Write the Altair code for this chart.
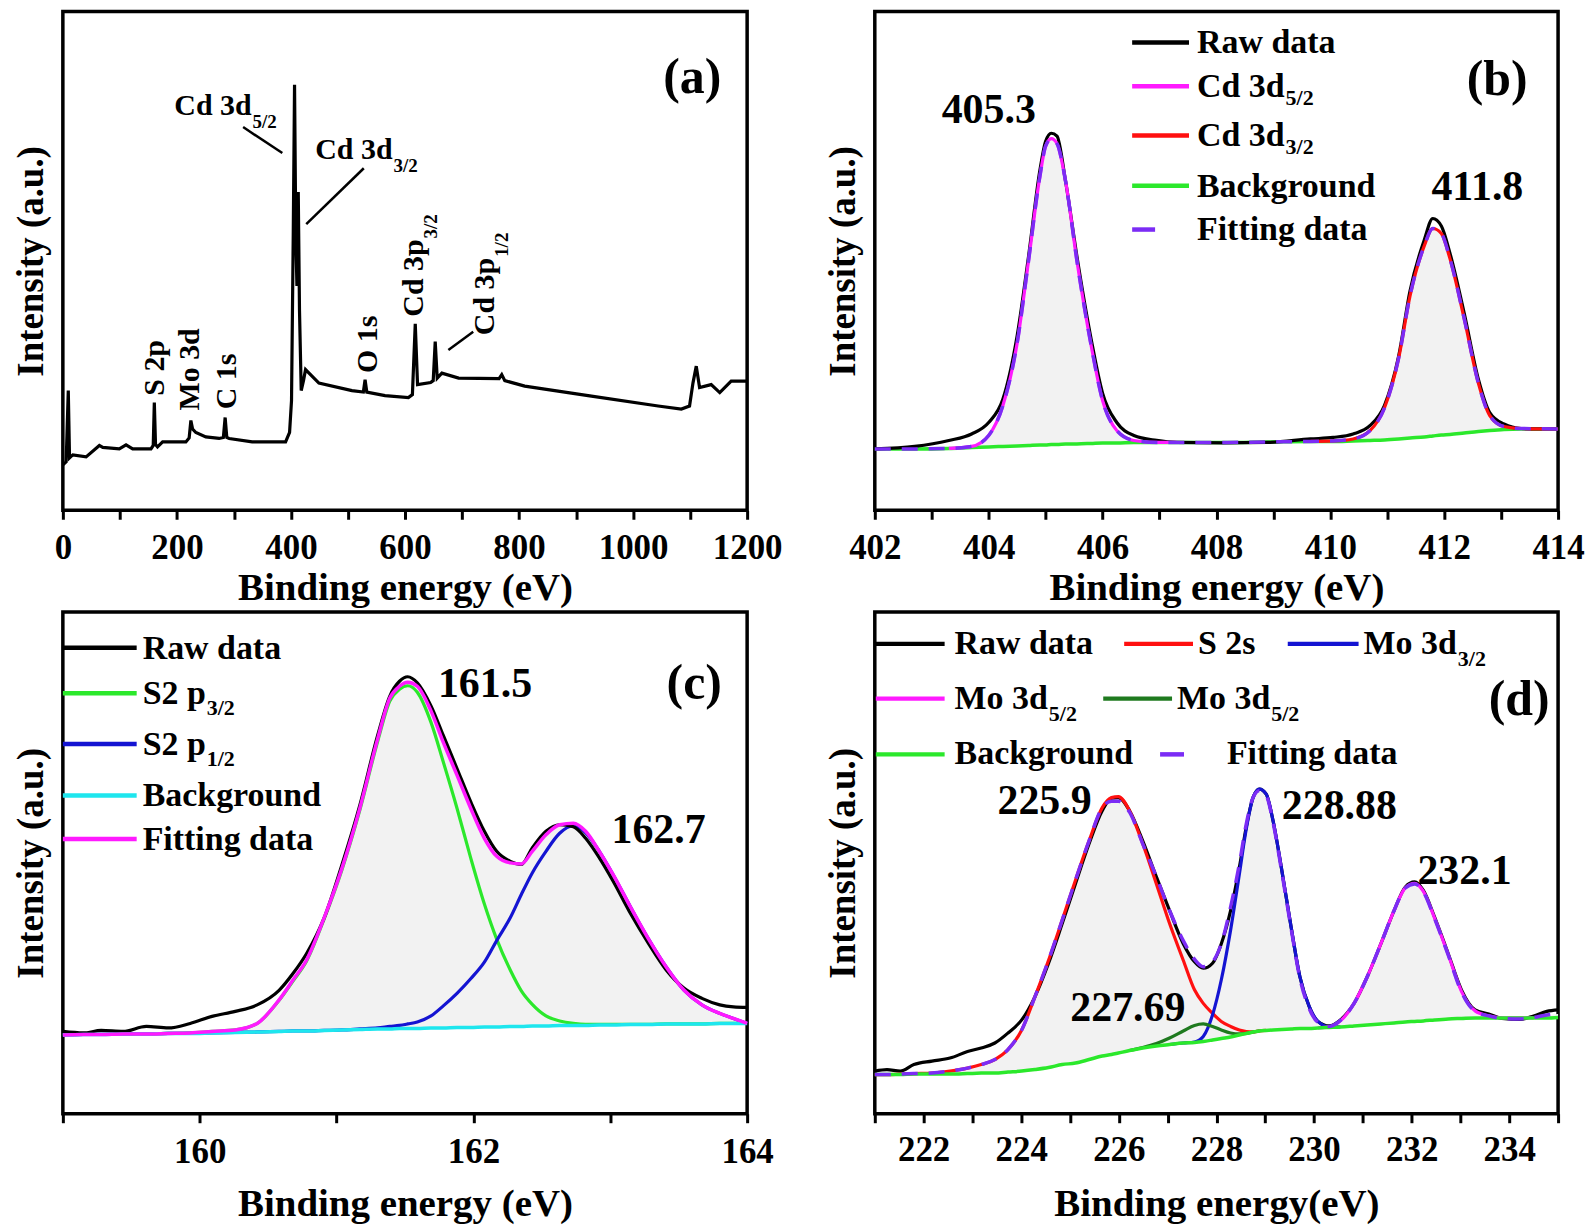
import altair as alt
import pandas as pd

FONT = "Liberation Serif"
MAG, RED, GRN, PUR = "#ff1aff", "#ff1010", "#2be82b", "#7b2cf5"
BLUE, CYAN, DKG, BLK = "#1414d2", "#1ee6ee", "#1f7a1f", "#000000"
FILL = "#f2f2f2"

# ---------------- (a) survey spectrum ----------------
a_x = [0, 5.8, 9.5, 11.7, 14.5, 17.5, 40.8, 64.0, 70.0, 99.0, 110.8, 122.4, 154.5, 158.5, 160.4, 162.5, 166.0, 175.0,
       215.7, 221.5, 224.5, 227.5, 233.2, 250.7, 274.0, 281.5, 284.6, 287.5, 291.6, 332.0, 390.6, 397.6, 401.0, 404.0,
       406.3, 408.5, 410.5, 412.8, 415.0, 418.0, 422.0, 425.6, 449.0, 507.0, 527.0, 530.0, 533.0, 565.0, 606.0, 613.0,
       618.0, 622.0, 645.0, 649.5, 653.0, 656.5, 664.7, 694.0, 765.0, 769.7, 775.0, 810.0, 927.0, 1044.0, 1084.6,
       1099.0, 1105.0, 1110.8, 1116.6, 1137.0, 1152.0, 1172.0, 1200.0]
a_y = [9.1, 9.7, 24.0, 10.5, 10.8, 11.1, 10.7, 13.0, 12.6, 12.3, 13.1, 12.3, 12.3, 13.0, 21.6, 13.2, 12.7, 13.7,
       13.7, 14.5, 18.0, 16.3, 15.6, 14.7, 14.4, 14.6, 18.6, 14.6, 14.4, 13.7, 13.7, 15.6, 22.0, 55.0,
       85.3, 55.0, 45.0, 63.8, 40.0, 24.0, 26.0, 28.2, 25.5, 24.0, 23.7, 26.2, 23.7, 23.0, 22.6, 23.2,
       37.4, 25.2, 25.6, 26.0, 33.8, 26.5, 27.5, 26.5, 26.4, 27.2, 26.0, 24.9, 22.9, 20.9, 20.3,
       20.9, 25.5, 28.9, 24.6, 25.2, 23.6, 25.9, 25.9]
a_ticks = [0, 100, 200, 300, 400, 500, 600, 700, 800, 900, 1000, 1100, 1200]

# ---------------- (b) Cd 3d ----------------
b_x = [402.0, 402.7, 403.3, 403.7, 404.0, 404.25, 404.5, 404.7, 404.9, 405.0, 405.1, 405.2, 405.35, 405.55, 405.8,
       406.0, 406.25, 406.55, 406.95, 407.3, 408.1, 408.9, 409.65, 410.05, 410.4, 410.7, 410.95, 411.2, 411.4,
       411.65, 411.8, 411.95, 412.1, 412.35, 412.6, 412.8, 413.05, 413.35, 414.0]
b_raw = [12.3, 12.8, 14.0, 15.3, 17.6, 22.3, 35.0, 50.9, 68.2, 74.0, 75.6, 75.0, 66.0, 50.9, 34.3, 23.5, 17.6, 15.0,
         14.0, 13.6, 13.5, 13.6, 14.3, 14.6, 15.3, 17.0, 21.0, 30.9, 44.0, 54.2, 58.5, 57.0, 51.6, 39.6, 26.3, 19.6,
         17.3, 16.4, 16.3]
b_bg = [12.3, 12.3, 12.4, 12.6, 12.7, 12.8, 12.9, 13.0, 13.1, 13.1, 13.2, 13.2, 13.3, 13.3, 13.4, 13.5, 13.5, 13.6,
        13.6, 13.6, 13.6, 13.7, 13.8, 13.8, 13.9, 14.0, 14.1, 14.3, 14.5, 14.7, 14.9, 15.1, 15.2, 15.5, 15.8, 16.0,
        16.2, 16.3, 16.3]
b_fit = [12.3, 12.3, 12.4, 12.8, 15.0, 21.0, 33.5, 50.0, 67.0, 73.0, 74.5, 73.5, 66.0, 50.0, 33.0, 22.0, 16.0, 14.0,
         13.6, 13.6, 13.6, 13.7, 13.8, 13.9, 14.3, 16.0, 20.5, 30.5, 43.0, 53.0, 56.5, 55.5, 50.5, 38.5, 25.5, 19.0,
         16.8, 16.4, 16.3]
b_c1_x = [403.3, 403.7, 404.0, 404.25, 404.5, 404.7, 404.9, 405.0, 405.1, 405.2, 405.35, 405.55, 405.8, 406.0,
          406.25, 406.55, 406.95, 407.3]
b_c1 = [12.4, 12.8, 15.0, 21.0, 33.5, 50.0, 67.0, 73.0, 74.5, 73.5, 66.0, 50.0, 33.0, 22.0, 16.0, 14.0, 13.6, 13.6]
b_c2_x = [409.65, 410.05, 410.4, 410.7, 410.95, 411.2, 411.4, 411.65, 411.8, 411.95, 412.1, 412.35, 412.6, 412.8,
          413.05, 413.35, 414.0]
b_c2 = [13.8, 13.9, 14.3, 16.0, 20.5, 30.5, 43.0, 53.0, 56.5, 55.5, 50.5, 38.5, 25.5, 19.0, 16.8, 16.4, 16.3]
b_ticks = [402, 403, 404, 405, 406, 407, 408, 409, 410, 411, 412, 413, 414]

# ---------------- (c) S 2p ----------------
c_x = [159.00, 159.15, 159.28, 159.44, 159.61, 159.77, 159.93, 160.09, 160.26, 160.42, 160.58, 160.68, 160.78,
       160.91, 161.04, 161.17, 161.30, 161.39, 161.46, 161.52, 161.59, 161.69, 161.78, 161.88, 161.98, 162.08,
       162.17, 162.27, 162.35, 162.43, 162.53, 162.63, 162.73, 162.82, 162.92, 163.02, 163.15, 163.28, 163.41,
       163.54, 163.67, 163.80, 163.90, 164.00]
c_raw = [16.4, 16.1, 16.6, 16.4, 17.4, 17.1, 18.0, 19.4, 20.4, 21.7, 24.6, 27.9, 31.9, 39.1, 49.7, 61.5, 75.4, 83.3,
         86.2, 87.1, 85.9, 81.3, 75.4, 68.8, 62.2, 56.3, 52.3, 50.3, 49.7, 53.0, 56.3, 57.6, 57.2, 54.9, 51.0, 46.4,
         39.8, 33.9, 28.6, 25.0, 23.0, 21.7, 21.3, 21.2]
c_fit = [15.7, 15.8, 15.8, 15.9, 15.9, 16.0, 16.1, 16.4, 16.7, 18.0, 22.7, 26.6, 30.6, 39.1, 49.0, 60.9, 74.7, 82.9,
         85.2, 86.0, 85.2, 80.3, 74.0, 67.5, 60.9, 54.9, 51.3, 50.0, 49.8, 52.3, 55.6, 57.6, 57.9, 56.3, 52.3, 47.7,
         41.1, 34.8, 29.2, 24.6, 21.7, 20.0, 19.0, 18.0]
c_bg = [15.7, 15.8, 15.8, 15.9, 15.9, 16.0, 16.0, 16.1, 16.2, 16.3, 16.4, 16.5, 16.5, 16.6, 16.7, 16.8, 16.9, 16.9,
        17.0, 17.0, 17.0, 17.1, 17.1, 17.2, 17.2, 17.3, 17.3, 17.4, 17.4, 17.5, 17.5, 17.6, 17.6, 17.6, 17.7, 17.7,
        17.8, 17.8, 17.9, 17.9, 17.9, 18.0, 18.0, 18.0]
c_p32 = [15.7, 15.8, 15.8, 15.9, 15.9, 16.0, 16.1, 16.4, 16.7, 18.0, 22.6, 26.4, 30.4, 38.9, 48.7, 60.5, 74.2, 82.3,
         84.6, 85.3, 84.0, 78.0, 70.1, 60.9, 51.0, 41.8, 34.8, 28.6, 24.5, 21.8, 19.5, 18.5, 18.0, 17.8, 17.8, 17.8,
         17.8, 17.8, 17.9, 17.9, 17.9, 18.0, 18.0, 18.0]
c_p12 = [15.7, 15.8, 15.8, 15.9, 15.9, 16.0, 16.0, 16.1, 16.2, 16.3, 16.4, 16.5, 16.5, 16.6, 16.7, 16.9, 17.1, 17.4,
         17.6, 17.9, 18.3, 19.5, 21.5, 24.0, 26.9, 30.2, 34.5, 39.1, 43.7, 48.0, 52.3, 55.9, 57.4, 56.0, 52.3, 47.7,
         41.1, 34.8, 29.2, 24.6, 21.7, 20.0, 19.0, 18.0]
c_ticks = [159, 160, 161, 162, 163, 164]

# ---------------- (d) S 2s / Mo 3d ----------------
d_x = [221.00, 221.25, 221.52, 221.80, 222.17, 222.54, 222.90, 223.18, 223.46, 223.73, 224.01, 224.28, 224.56,
       224.84, 225.11, 225.39, 225.66, 225.85, 225.99, 226.22, 226.49, 226.77, 227.04, 227.32, 227.55, 227.73,
       227.92, 228.10, 228.29, 228.47, 228.61, 228.75, 228.88, 229.02, 229.16, 229.34, 229.53, 229.71, 229.90,
       230.08, 230.31, 230.54, 230.82, 231.09, 231.37, 231.64, 231.87, 232.06, 232.24, 232.47, 232.75, 233.02,
       233.30, 233.58, 233.85, 234.22, 234.50, 234.77, 235.00]
d_bg = [7.8, 7.8, 7.8, 7.9, 7.9, 7.9, 8.0, 8.1, 8.1, 8.3, 8.5, 8.8, 9.2, 9.8, 10.1, 10.8, 11.5, 11.8, 12.1, 12.6,
        13.1, 13.5, 13.8, 14.1, 14.2, 14.4, 14.7, 15.0, 15.3, 15.7, 16.0, 16.3, 16.5, 16.6, 16.7, 16.8, 16.9, 17.0,
        17.0, 17.1, 17.2, 17.3, 17.5, 17.7, 17.9, 18.1, 18.3, 18.4, 18.5, 18.7, 18.9, 19.0, 19.1, 19.1, 19.1, 19.1,
        19.1, 19.1, 19.2]
d_raw = [8.5, 8.8, 8.5, 9.8, 10.5, 11.1, 12.4, 13.1, 14.1, 16.1, 18.7, 23.3, 30.0, 37.9, 45.8, 53.8, 60.4, 62.9,
         63.0, 60.4, 54.4, 47.2, 40.5, 33.9, 30.3, 29.0, 30.0, 33.9, 40.5, 49.1, 57.1, 63.0, 64.7, 63.7, 58.4, 48.5,
         37.2, 27.3, 21.4, 18.4, 17.5, 18.7, 22.0, 27.3, 33.9, 40.5, 45.2, 46.2, 44.5, 39.2, 31.9, 24.7, 20.7, 19.9,
         19.0, 18.8, 19.5, 20.4, 20.7]
d_fit = [7.8, 7.8, 7.9, 8.0, 8.1, 8.5, 9.1, 9.8, 10.8, 12.8, 16.7, 23.3, 30.6, 38.6, 46.5, 54.4, 61.0, 62.3, 62.3,
         60.1, 53.8, 47.2, 40.5, 34.5, 30.8, 29.3, 30.3, 33.9, 41.2, 49.8, 57.7, 63.0, 64.4, 63.4, 58.1, 48.1, 36.9,
         27.0, 21.0, 18.2, 17.4, 18.6, 22.0, 27.3, 33.9, 40.5, 45.0, 45.8, 44.2, 38.9, 31.6, 24.3, 20.4, 19.5, 19.0,
         18.9, 19.2, 19.7, 19.9]
d_s2s = [7.8, 7.8, 7.9, 8.0, 8.1, 8.5, 9.1, 9.8, 10.8, 12.8, 16.7, 23.3, 30.6, 38.6, 46.5, 54.4, 61.0, 63.0, 63.2,
         60.4, 53.8, 45.8, 37.9, 30.6, 24.7, 22.0, 20.0, 18.4, 17.4, 16.7, 16.4, 16.3, 16.5, 16.6]
d_mo32 = [13.8, 14.1, 14.3, 15.4, 19.7, 26.7, 36.6, 47.8, 56.7, 63.0, 64.7, 63.7, 58.4, 48.5, 37.2, 27.3, 21.4,
          18.4, 17.3, 17.3]
d_mo52 = [17.1, 17.3, 18.5, 22.0, 27.3, 33.9, 40.5, 45.0, 45.9, 44.3, 39.0, 31.7, 24.4, 20.5, 19.5, 19.1, 19.1, 19.1]
d_mo52b = [12.6, 13.2, 14.0, 15.1, 16.5, 17.6, 17.9, 17.4, 16.7, 16.1, 15.9, 16.0, 16.3, 16.5]
d_ticks = [221, 222, 223, 224, 225, 226, 227, 228, 229, 230, 231, 232, 233, 234, 235]

# ---------------- layout helpers ----------------
TW = {' ': 250, '(': 333, ')': 333, '.': 250, '/': 278, 'A': 722, 'B': 667, 'C': 722, 'D': 722, 'F': 611,
      'M': 944, 'O': 778, 'R': 722, 'S': 556, 'V': 722, 'I': 389, 'a': 500, 'b': 556, 'c': 444, 'd': 556,
      'e': 444, 'f': 333, 'g': 500, 'h': 556, 'i': 278, 'k': 556, 'l': 278, 'm': 833, 'n': 556, 'o': 500,
      'p': 556, 'r': 444, 's': 389, 't': 333, 'u': 556, 'w': 722, 'y': 500}


def tw(s, size):
    return sum(TW.get(ch, 500) for ch in s) * size / 1000.0


W1, W2 = 686, 685
H1, H2 = 500, 503
REF = {'a': (60, 4, 509, H1), 'b': (876, 4, 505, H1), 'c': (61, 612, 1118, H2), 'd': (875, 607, 1111, H2)}
LEG, SUB, PEAK, LET = 34, 22, 42, 50


def P(p, x, y):
    L, T, B, H = REF[p]
    return x - L, (y - T) * H / (B - T)


def text(p, x, y, s, size, align='left', angle=0, dx=0, dy=0):
    px, py = P(p, x, y)
    kw = dict(font=FONT, fontWeight='bold', fontSize=size, align=align, baseline='alphabetic', color=BLK)
    if angle:
        kw['angle'] = angle
    if dx:
        kw['dx'] = dx
    if dy:
        kw['dy'] = dy
    return alt.Chart(pd.DataFrame({'t': [s]})).mark_text(**kw).encode(
        x=alt.value(px), y=alt.value(py), text='t:N')


def rich(p, x, y, main, sub, size, subsize, drop, angle=0):
    return [text(p, x, y, main, size, angle=angle),
            text(p, x, y, sub, subsize, angle=angle, dx=tw(main, size) + 1, dy=drop)]


def seg(p, x1, y1, x2, y2, color, width=4.0, dash=None):
    X1, Y1 = P(p, x1, y1)
    X2, Y2 = P(p, x2, y2)
    kw = dict(color=color, strokeWidth=width)
    if dash:
        kw['strokeDash'] = dash
    return alt.Chart(pd.DataFrame({'k': [0]})).mark_rule(**kw).encode(
        x=alt.value(X1), y=alt.value(Y1), x2=alt.value(X2), y2=alt.value(Y2))


def xenc(dom, ticks, step, title, lp, tp):
    return alt.X('x:Q', scale=alt.Scale(domain=dom, nice=False, zero=False),
                 axis=alt.Axis(values=ticks, labelExpr=f"datum.value % {step} == 0 ? datum.label : ''",
                               format='d', title=title, labelPadding=lp, titlePadding=tp,
                               labelFontSize=35, titleFontSize=39,
                               tickSize=9, tickWidth=3, tickColor=BLK, domain=False, grid=False,
                               labelFlush=False, labelOverlap=False, labelBound=False))


def yenc(tp):
    return alt.Y('y:Q', scale=alt.Scale(domain=[0, 100], nice=False, zero=False),
                 axis=alt.Axis(title='Intensity (a.u.)', labels=False, ticks=False, domain=False,
                               grid=False, titlePadding=tp, titleFontSize=37))


def line(xs, ys, X, Y, color, width=3.0, dash=None, interp='monotone'):
    kw = dict(color=color, strokeWidth=width, interpolate=interp)
    if dash:
        kw['strokeDash'] = dash
    return alt.Chart(pd.DataFrame({'x': xs, 'y': ys})).mark_line(**kw).encode(x=X, y=Y)


def fill(xs, top, bottom, X, Y):
    df = pd.DataFrame({'x': xs, 'y': top, 'y2': bottom})
    return alt.Chart(df).mark_area(color=FILL, interpolate='monotone').encode(x=X, y=Y, y2='y2:Q')


DASH = [16, 11]

# ---------------- panel (a) ----------------
XA = xenc([0, 1200], a_ticks, 200, 'Binding energy (eV)', 11, 3)
YA = yenc(12)
la = [line(a_x, a_y, XA, YA, BLK, 3.2, interp='linear')]
la += rich('a', 171.7, 108.3, 'Cd 3d', '5/2', 30, 19, 13)
la.append(seg('a', 240.7, 121, 280, 147.3, BLK, 2.5))
la += rich('a', 313, 153, 'Cd 3d', '3/2', 30, 19, 13)
la.append(seg('a', 361.7, 162.7, 304, 219.3, BLK, 2.5))
la.append(text('a', 161.7, 393, 'S 2p', 30, angle=270))
la.append(text('a', 196.7, 408, 'Mo 3d', 30, angle=270))
la.append(text('a', 233.3, 406.7, 'C 1s', 30, angle=270))
la.append(text('a', 375, 370, 'O 1s', 30, angle=270))
la += rich('a', 420.7, 313, 'Cd 3p', '3/2', 30, 19, 14, angle=270)
la += rich('a', 492.7, 331.7, 'Cd 3p', '1/2', 30, 19, 14, angle=270)
la.append(seg('a', 446.5, 346.7, 471.4, 328.3, BLK, 2.5))
la.append(text('a', 691, 86, '(a)', LET, align='center'))
A = alt.layer(*la).properties(width=W1, height=H1)

# ---------------- panel (b) ----------------
XB = xenc([402, 414], b_ticks, 2, 'Binding energy (eV)', 11, 3)
YB = yenc(12)
lb = [fill(b_x, b_fit, b_bg, XB, YB),
      line(b_x, b_bg, XB, YB, GRN, 3.5),
      line(b_x, b_raw, XB, YB, BLK, 3.2),
      line(b_c1_x, b_c1, XB, YB, MAG, 3.2),
      line(b_c2_x, b_c2, XB, YB, RED, 3.2),
      line(b_x, b_fit, XB, YB, PUR, 3.5, dash=DASH)]
b_rows = [('Raw data', None, BLK), ('Cd 3d', '5/2', MAG), ('Cd 3d', '3/2', RED),
          ('Background', None, GRN), ('Fitting data', None, PUR)]
b_line_y = [35, 79, 128.5, 179, 223]
b_base_y = [46, 90, 139, 190, 234]
for (m, s, col), ly, by in zip(b_rows, b_line_y, b_base_y):
    if col == PUR:
        lb.append(seg('b', 1134, ly, 1157, ly, col, 4.5))
    else:
        lb.append(seg('b', 1134, ly, 1191, ly, col, 4.5))
    if s:
        lb += rich('b', 1199, by, m, s, LEG, SUB, 8)
    else:
        lb.append(text('b', 1199, by, m, LEG))
lb.append(text('b', 943, 116, '405.3', PEAK))
lb.append(text('b', 1434, 193, '411.8', PEAK))
lb.append(text('b', 1500, 88, '(b)', LET, align='center'))
B = alt.layer(*lb).properties(width=W2, height=H1)

# ---------------- panel (c) ----------------
XC = xenc([159, 164], c_ticks, 2, 'Binding energy (eV)', 12, 15)
YC = yenc(12)
lc = [fill(c_x, c_fit, c_bg, XC, YC),
      line(c_x, c_p32, XC, YC, GRN, 3.2),
      line(c_x, c_p12, XC, YC, BLUE, 3.2),
      line(c_x, c_raw, XC, YC, BLK, 3.2),
      line(c_x, c_bg, XC, YC, CYAN, 3.5),
      line(c_x, c_fit, XC, YC, MAG, 3.5)]
c_rows = [('Raw data', None, BLK), ('S2 p', '3/2', GRN), ('S2 p', '1/2', BLUE),
          ('Background', None, CYAN), ('Fitting data', None, MAG)]
c_line_y = [648, 694, 745, 797, 841]
c_base_y = [659, 705, 756, 808, 852]
for (m, s, col), ly, by in zip(c_rows, c_line_y, c_base_y):
    lc.append(seg('c', 61, ly, 135, ly, col, 4.5))
    if s:
        lc += rich('c', 141, by, m, s, LEG, SUB, 11)
    else:
        lc.append(text('c', 141, by, m, LEG))
lc.append(text('c', 437, 698, '161.5', PEAK))
lc.append(text('c', 611, 845, '162.7', PEAK))
lc.append(text('c', 694, 700, '(c)', LET, align='center'))
C = alt.layer(*lc).properties(width=W1, height=H2)

# ---------------- panel (d) ----------------
XD = xenc([221, 235], d_ticks, 2, 'Binding energy(eV)', 10, 17)
YD = yenc(12)
ld = [fill(d_x, d_fit, d_bg, XD, YD),
      line(d_x, d_raw, XD, YD, BLK, 3.2),
      line(d_x[0:34], d_s2s, XD, YD, RED, 3.2),
      line(d_x[22:42], d_mo32, XD, YD, BLUE, 3.2),
      line(d_x[39:57], d_mo52, XD, YD, MAG, 3.2),
      line(d_x[19:33], d_mo52b, XD, YD, DKG, 3.2),
      line(d_x, d_bg, XD, YD, GRN, 3.5),
      line(d_x, d_fit, XD, YD, PUR, 3.5, dash=DASH)]
ld.append(seg('d', 876, 639, 945, 639, BLK, 4.5))
ld.append(text('d', 955, 649, 'Raw data', LEG))
ld.append(seg('d', 1125, 639, 1194, 639, RED, 4.5))
ld.append(text('d', 1199, 649, 'S 2s', LEG))
ld.append(seg('d', 1289, 639, 1360, 639, BLUE, 4.5))
ld += rich('d', 1365, 649, 'Mo 3d', '3/2', LEG, SUB, 12)
ld.append(seg('d', 876, 694, 945, 694, MAG, 4.5))
ld += rich('d', 955, 704, 'Mo 3d', '5/2', LEG, SUB, 12)
ld.append(seg('d', 1104, 694, 1173, 694, DKG, 4.5))
ld += rich('d', 1178, 704, 'Mo 3d', '5/2', LEG, SUB, 12)
ld.append(seg('d', 876, 750, 945, 750, GRN, 4.5))
ld.append(text('d', 955, 760, 'Background', LEG))
ld.append(seg('d', 1161, 750, 1185, 750, PUR, 4.5))
ld.append(text('d', 1228, 760, 'Fitting data', LEG))
ld.append(text('d', 998, 810, '225.9', PEAK))
ld.append(text('d', 1283, 815, '228.88', PEAK))
ld.append(text('d', 1419, 880, '232.1', PEAK))
ld.append(text('d', 1071, 1018, '227.69', PEAK))
ld.append(text('d', 1521, 710, '(d)', LET, align='center'))
D = alt.layer(*ld).properties(width=W2, height=H2)

chart = alt.concat(
    A, B, C, D, columns=2,
    spacing={"row": 102, "column": 128}, bounds='flush',
    padding={"left": 3, "top": 0, "right": 0, "bottom": 0}
).configure_view(
    stroke=BLK, strokeWidth=3.5
).configure_axis(
    labelFont=FONT, titleFont=FONT, labelFontWeight='bold', titleFontWeight='bold',
    labelColor=BLK, titleColor=BLK
)

chart.save("out.html", embed_options={"renderer": "svg", "actions": False})
